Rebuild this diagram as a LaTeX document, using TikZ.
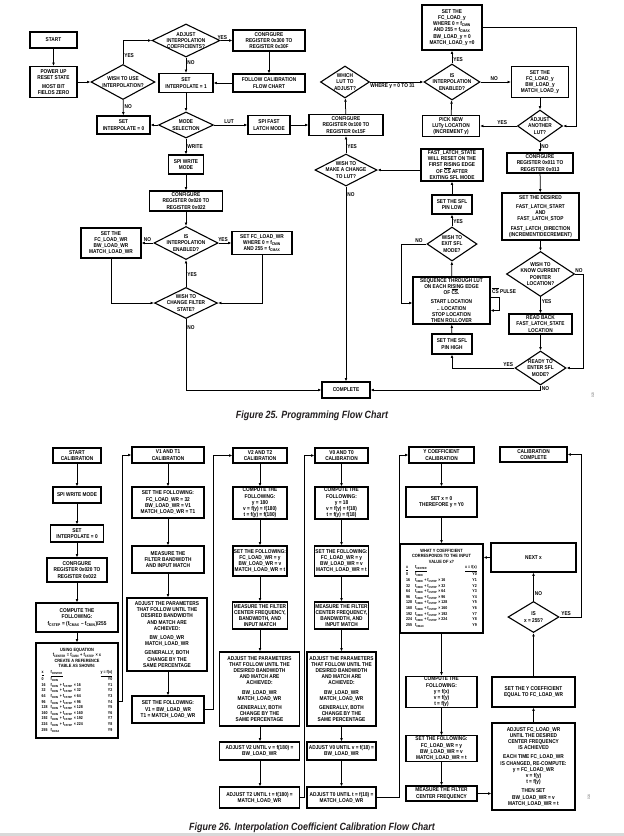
\documentclass[tikz,border=0pt]{standalone}
\usepackage{fontspec}
\usepackage{tikz}
\usetikzlibrary{shapes.geometric,arrows.meta,positioning}
\newfontfamily\flowfont{Liberation Sans}[FakeStretch=0.85]
\newcommand{\fsb}[1]{f\textsubscript{#1}}
\newcommand{\csbar}{$\overline{\mbox{CS}}$}
\newcommand{\txtfont}{\flowfont\bfseries\fontsize{5.6}{6.2}\selectfont}
\newcommand{\hdfont}{\flowfont\bfseries\fontsize{4.6}{5.4}\selectfont}
\newcommand{\tblfont}{\flowfont\bfseries\fontsize{4.2}{5.6}\selectfont}
\definecolor{capink}{HTML}{231F20}
\tikzset{
  box/.style={draw, line width=1.1pt, align=center, inner sep=1pt, font=\txtfont},
  tbox/.style={box, font=\hdfont},
  dia/.style={diamond, draw, line width=1.1pt, inner sep=0pt},
  dtxt/.style={align=center, inner sep=0pt, font=\txtfont},
  lbl/.style={inner sep=1pt, font=\txtfont},
  arr/.style={-{Latex[length=3.4pt,width=2.8pt]}, line width=.75pt},
  figcap/.style={text=capink, font=\flowfont\bfseries\itshape\fontsize{10.5}{12}\selectfont},
  figid/.style={rotate=90, font=\flowfont\fontsize{3.5}{4}\selectfont, text=black!60},
}

\begin{document}
\begin{tikzpicture}[x=1pt,y=-1pt]
          \useasboundingbox (0,0) rectangle (624,836);
          \fill[white] (0,0) rectangle (624,836);
          \fill[black!15] (0,833) rectangle (624,836);

          \node[box, minimum width=47pt, minimum height=16pt] (start) at (53.5,40) {START};
          \node[box, minimum width=47pt, minimum height=31pt] (powerup) at (53.5,82) {POWER UP\\RESET STATE\\[3pt]MOST BIT\\FIELDS ZERO};
          \node[dia, minimum width=64pt, minimum height=35pt] (wishuse) at (123,82) {};
          \node[dtxt] (wishuse-t) at (wishuse) {WISH TO USE\\INTERPOLATION?};
          \node[dia, minimum width=68pt, minimum height=33pt] (adjcoef) at (186,40.5) {};
          \node[dtxt] (adjcoef-t) at (adjcoef) {ADJUST\\INTERPOLATION\\COEFFICIENTS?};
          \node[box, minimum width=72pt, minimum height=21pt] (cfg300) at (269,40.5) {CONFIGURE\\REGISTER 0x300 TO\\REGISTER 0x30F};
          \node[box, minimum width=54pt, minimum height=19pt] (setone) at (186,83) {SET\\INTERPOLATE = 1};
          \node[box, minimum width=72pt, minimum height=18pt] (follow) at (269,83) {FOLLOW CALIBRATION\\FLOW CHART};
          \node[dia, minimum width=55pt, minimum height=26pt] (mode) at (186,125) {};
          \node[dtxt] (mode-t) at (mode) {MODE\\SELECTION};
          \node[box, minimum width=53pt, minimum height=18pt] (setzero) at (123.5,125) {SET\\INTERPOLATE = 0};
          \node[box, minimum width=42pt, minimum height=19pt] (spifast) at (269,125) {SPI FAST\\LATCH MODE};
          \node[box, minimum width=74pt, minimum height=21pt] (cfg100) at (346,125) {CONFIGURE\\REGISTER 0x100 TO\\REGISTER 0x15F};
          \node[dia, minimum width=49pt, minimum height=32pt] (whichlut) at (345,82) {};
          \node[dtxt] (whichlut-t) at (whichlut) {WHICH\\LUT TO\\ADJUST?};
          \node[dia, minimum width=56pt, minimum height=36pt] (isinterp) at (452,82) {};
          \node[dtxt] (isinterp-t) at (isinterp) {IS\\INTERPOLATION\\ENABLED?};
          \node[box, minimum width=60pt, minimum height=45pt] (setfcy) at (452,27.5) {SET THE\\FC\_LOAD\_y\\WHERE 0 = \fsb{CMIN}\\AND 255 = \fsb{CMAX}\\BW\_LOAD\_y = 0\\MATCH\_LOAD\_y =0};
          \node[box, minimum width=57pt, minimum height=31pt] (setfcy2) at (540,82) {SET THE\\FC\_LOAD\_y\\BW\_LOAD\_y\\MATCH\_LOAD\_y};
          \node[dia, minimum width=45pt, minimum height=32pt] (adjanother) at (540,126) {};
          \node[dtxt] (adjanother-t) at (adjanother) {ADJUST\\ANOTHER\\LUT?};
          \node[box, minimum width=57pt, minimum height=21pt] (picknew) at (451,126) {PICK NEW\\LUTy LOCATION\\(INCREMENT y)};
          \node[box, minimum width=66pt, minimum height=20pt] (cfg011) at (540,163) {CONFIGURE\\REGISTER 0x011 TO\\REGISTER 0x013};
          \node[box, minimum width=62pt, minimum height=32pt] (fastreset) at (452,165) {FAST\_LATCH\_STATE\\WILL RESET ON THE\\FIRST RISING EDGE\\OF \csbar{} AFTER\\EXITING SFL MODE};
          \node[dia, minimum width=62pt, minimum height=32pt] (wishchange) at (346,170) {};
          \node[dtxt] (wishchange-t) at (wishchange) {WISH TO\\MAKE A CHANGE\\TO LUT?};
          \node[box, minimum width=77pt, minimum height=47pt] (setdesired) at (540.5,216.5) {SET THE DESIRED\\[3pt]FAST\_LATCH\_START\\AND\\FAST\_LATCH\_STOP\\[3pt]FAST\_LATCH\_DIRECTION\\(INCREMENT/DECREMENT)};
          \node[box, minimum width=40pt, minimum height=19pt] (sfllow) at (452,204.5) {SET THE SFL\\PIN LOW};
          \node[dia, minimum width=50pt, minimum height=34pt] (wishexit) at (452,244) {};
          \node[dtxt] (wishexit-t) at (wishexit) {WISH TO\\EXIT SFL\\MODE?};
          \node[dia, minimum width=68pt, minimum height=45pt] (wishknow) at (540.5,274) {};
          \node[dtxt] (wishknow-t) at (wishknow) {WISH TO\\KNOW CURRENT\\POINTER\\LOCATION?};
          \node[box, minimum width=77pt, minimum height=47pt] (sequence) at (451.5,300.5) {SEQUENCE THROUGH LUT\\ON EACH RISING EDGE\\OF \csbar.\\[3pt]START LOCATION\\.. LOCATION\\STOP LOCATION\\THEN ROLLOVER};
          \node[lbl, anchor=west] (pulse) at (491,291) {\csbar{} PULSE};
          \node[box, minimum width=63pt, minimum height=20pt] (readback) at (540.5,324) {READ BACK\\FAST\_LATCH\_STATE\\LOCATION};
          \node[box, minimum width=40pt, minimum height=20pt] (sflhigh) at (452,344) {SET THE SFL\\PIN HIGH};
          \node[dia, minimum width=51pt, minimum height=34pt] (ready) at (540.5,368) {};
          \node[dtxt] (ready-t) at (ready) {READY TO\\ENTER SFL\\MODE?};
          \node[box, minimum width=48pt, minimum height=16pt] (complete) at (346,390) {COMPLETE};
          \node[box, minimum width=35pt, minimum height=19pt] (spiwrite) at (186,164.5) {SPI WRITE\\MODE};
          \node[box, minimum width=73pt, minimum height=20pt] (cfg020) at (186,201) {CONFIGURE\\REGISTER 0x020 TO\\REGISTER 0x022};
          \node[dia, minimum width=64pt, minimum height=33pt] (isinterp2) at (186,243) {};
          \node[dtxt] (isinterp2-t) at (isinterp2) {IS\\INTERPOLATION\\ENABLED?};
          \node[box, minimum width=60pt, minimum height=30pt] (setwr) at (111,243) {SET THE\\FC\_LOAD\_WR\\BW\_LOAD\_WR\\MATCH\_LOAD\_WR};
          \node[box, minimum width=60pt, minimum height=23pt] (setwrwhere) at (262,243) {SET FC\_LOAD\_WR\\WHERE 0 = \fsb{CMIN}\\AND 255 = \fsb{CMAX}};
          \node[dia, minimum width=63pt, minimum height=31pt] (wishfilter) at (186,303) {};
          \node[dtxt] (wishfilter-t) at (wishfilter) {WISH TO\\CHANGE FILTER\\STATE?};

          \draw[arr] (start) -- (powerup);
          \draw[arr] (powerup) -- (wishuse);
          \draw[arr] (wishuse.north) |- node[lbl, right, pos=.18] (yes1) {YES} (adjcoef.west);
          \draw[arr] (adjcoef.east) -- node[lbl, above, pos=.15] (yes2) {YES} (cfg300.west);
          \draw[arr] (adjcoef) -- node[lbl, right, pos=.3] (no1) {NO} (setone);
          \draw[arr] (cfg300) -- (follow);
          \draw[arr] (follow) -- (setone);
          \draw[arr] (setone) -- (mode);
          \draw[arr] (wishuse) -- node[lbl, right, pos=.4] (no2) {NO} (setzero);
          \draw[arr] (mode) -- (setzero);
          \draw[arr] (mode) -- node[lbl, above, pos=.45] (lut) {LUT} (spifast);
          \draw[arr] (mode) -- node[lbl, right, pos=.5] (write) {WRITE} (spiwrite);
          \draw[arr] (spifast) -- (cfg100);
          \draw[arr] (cfg100) -- (whichlut);
          \draw[arr] (whichlut) -- node[lbl, below, pos=.42] (where) {WHERE y = 0 TO 31} (isinterp);
          \draw[arr] (isinterp) -- node[lbl, right, pos=.3] (yes3) {YES} (setfcy);
          \draw[arr] (isinterp) -- node[lbl, above, pos=.45] (no3) {NO} (setfcy2);
          \draw[arr] (setfcy.east) -- ++(94,0) |- (adjanother.east);
          \draw[arr] (setfcy2) -- (adjanother);
          \draw[arr] (adjanother) -- node[lbl, above, pos=.4] (yes4) {YES} (picknew);
          \draw[arr] (picknew) -- (isinterp);
          \draw[arr] (adjanother) -- node[lbl, right, pos=.4] (no4) {NO} (cfg011);
          \draw[arr] (cfg011) -- (setdesired);
          \draw[arr] (setdesired) -- (wishknow);
          \draw[arr] (wishknow) -- node[lbl, right, pos=.25] (yes5) {YES} (readback);
          \draw[arr] (wishknow.east) -- node[lbl, above, pos=.5] (no5) {NO} ++(8,0) |- (ready.east);
          \draw[arr] (readback) -- (ready);
          \draw[arr] (ready.west) -| node[lbl, above, pos=.05] (yes6) {YES} (sflhigh.south);
          \draw[arr] (ready.south) |- node[lbl, right, pos=.3] (no6) {NO} (complete.east);
          \draw[arr] (sflhigh) -- (sequence);
          \draw[arr] (sequence) -- (wishexit);
          \draw[arr] (wishexit) -- node[lbl, right, pos=.4] (yes7) {YES} (sfllow);
          \draw[arr] (wishexit.west) -- node[lbl, above, pos=.3] (no7) {NO} ++(-25,0) |- ([yshift=-2.5pt]sequence.west);
          \draw[arr] ([yshift=3pt]sequence.east) -- ++(9,0) -- ++(0,13) -- ++(-9,0);
          \draw[arr] (sfllow) -- (fastreset);
          \draw[arr] (fastreset.west |- wishchange) -- (wishchange);
          \draw[arr] (wishchange) -- node[lbl, right, pos=.4] (yes8) {YES} (cfg100);
          \draw[arr] (wishchange) -- node[lbl, right, pos=.04] (no8) {NO} (complete);
          \draw[arr] (spiwrite) -- (cfg020);
          \draw[arr] (cfg020) -- (isinterp2);
          \draw[arr] (isinterp2) -- node[lbl, above, pos=.5] (no9) {NO} (setwr);
          \draw[arr] (isinterp2) -- node[lbl, above, pos=.35] (yes9) {YES} (setwrwhere);
          \draw[arr] (setwr.south) |- (wishfilter.west);
          \draw[arr] (setwrwhere.south) |- (wishfilter.east);
          \draw[arr] (wishfilter) -- node[lbl, right, pos=.45] (yes10) {YES} (isinterp2);
          \draw[arr] (wishfilter.south) |- node[lbl, right, pos=.06] (no10) {NO} (complete.west);

          \node[figcap] (cap25) at (312,416) {Figure 25. Programming Flow Chart};
          \node[figid] (id23) at (593,395) {023};

          \node[box, minimum width=48pt, minimum height=15pt] (startcal) at (77,455.5) {START\\CALIBRATION};
          \node[box, minimum width=48pt, minimum height=16pt] (spiwr2) at (77,495) {SPI WRITE MODE};
          \node[box, minimum width=53pt, minimum height=17pt] (setzero2) at (77,533.5) {SET\\INTERPOLATE = 0};
          \node[box, minimum width=60pt, minimum height=24pt] (cfg020b) at (77,570) {CONFIGURE\\REGISTER 0x020 TO\\REGISTER 0x022};
          \node[box, minimum width=82pt, minimum height=29pt] (cstep) at (77,617.5) {COMPUTE THE\\FOLLOWING:\\\fsb{CSTEP} = (\fsb{CMAX} – \fsb{CMIN})/255};
          \node[tbox, minimum width=82pt, minimum height=95pt] (using) at (77,690.5) {USING EQUATION\\\fsb{CENTER} = \fsb{CMIN} + \fsb{CSTEP} × x\\CREATE A REFERENCE\\TABLE AS SHOWN:\\[1pt]\tblfont\begin{tabular}{@{}p{9pt}@{}p{50pt}@{}r@{}}
            \underline{x} & \underline{\fsb{CENTER}} & \underline{y = f(x)}\\
            0 & \fsb{CMIN} & Y0\\
            16 & \fsb{CMIN} + \fsb{CSTEP} × 16 & Y1\\
            32 & \fsb{CMIN} + \fsb{CSTEP} × 32 & Y2\\
            64 & \fsb{CMIN} + \fsb{CSTEP} × 64 & Y3\\
            96 & \fsb{CMIN} + \fsb{CSTEP} × 96 & Y4\\
            128 & \fsb{CMIN} + \fsb{CSTEP} × 128 & Y5\\
            160 & \fsb{CMIN} + \fsb{CSTEP} × 160 & Y6\\
            192 & \fsb{CMIN} + \fsb{CSTEP} × 192 & Y7\\
            224 & \fsb{CMIN} + \fsb{CSTEP} × 224 & Y8\\
            255 & \fsb{CMAX} & Y9
          \end{tabular}};

          \node[box, minimum width=72pt, minimum height=16pt] (v1cal) at (168,455) {V1 AND T1\\CALIBRATION};
          \node[box, minimum width=72pt, minimum height=31pt] (v1set) at (168,502.5) {SET THE FOLLOWING:\\FC\_LOAD\_WR = 32\\BW\_LOAD\_WR = V1\\MATCH\_LOAD\_WR = T1};
          \node[box, minimum width=72pt, minimum height=27pt] (v1meas) at (168,559.5) {MEASURE THE\\FILTER BANDWIDTH\\AND INPUT MATCH};
          \node[box, minimum width=80pt, minimum height=73pt] (v1adj) at (167,634.5) {ADJUST THE PARAMETERS\\THAT FOLLOW UNTIL THE\\DESIRED BANDWIDTH\\AND MATCH ARE\\ACHIEVED:\\[3pt]BW\_LOAD\_WR\\MATCH\_LOAD\_WR\\[3pt]GENERALLY, BOTH\\CHANGE BY THE\\SAME PERCENTAGE};
          \node[box, minimum width=72pt, minimum height=27pt] (v1fin) at (168,709.5) {SET THE FOLLOWING:\\V1 = BW\_LOAD\_WR\\T1 = MATCH\_LOAD\_WR};

          \node[box, minimum width=54pt, minimum height=15pt] (v2cal) at (260,455.5) {V2 AND T2\\CALIBRATION};
          \node[box, minimum width=54pt, minimum height=32pt] (v2comp) at (260,503) {COMPUTE THE\\FOLLOWING:\\y = 180\\v = f(y) = f(180)\\t = f(y) = f(180)};
          \node[box, minimum width=54pt, minimum height=30pt] (v2set) at (260,561) {SET THE FOLLOWING:\\FC\_LOAD\_WR = y\\BW\_LOAD\_WR = v\\MATCH\_LOAD\_WR = t};
          \node[box, minimum width=54pt, minimum height=27pt] (v2meas) at (260,615.5) {MEASURE THE FILTER\\CENTER FREQUENCY,\\BANDWIDTH, AND\\INPUT MATCH};
          \node[box, minimum width=80pt, minimum height=74pt] (v2adj) at (259.5,689) {ADJUST THE PARAMETERS\\THAT FOLLOW UNTIL THE\\DESIRED BANDWIDTH\\AND MATCH ARE\\ACHIEVED:\\[3pt]BW\_LOAD\_WR\\MATCH\_LOAD\_WR\\[3pt]GENERALLY, BOTH\\CHANGE BY THE\\SAME PERCENTAGE};
          \node[box, minimum width=80pt, minimum height=18pt] (v2v) at (259.5,751) {ADJUST V2 UNTIL v = f(180) =\\BW\_LOAD\_WR};
          \node[box, minimum width=80pt, minimum height=21pt] (v2t) at (259.5,797.5) {ADJUST T2 UNTIL t = f(180) =\\MATCH\_LOAD\_WR};

          \node[box, minimum width=53pt, minimum height=15pt] (v0cal) at (341.5,455.5) {V0 AND T0\\CALIBRATION};
          \node[box, minimum width=53pt, minimum height=32pt] (v0comp) at (341.5,503) {COMPUTE THE\\FOLLOWING:\\y = 18\\v = f(y) = f(18)\\t = f(y) = f(18)};
          \node[box, minimum width=53pt, minimum height=30pt] (v0set) at (341.5,561) {SET THE FOLLOWING:\\FC\_LOAD\_WR = y\\BW\_LOAD\_WR = v\\MATCH\_LOAD\_WR = t};
          \node[box, minimum width=53pt, minimum height=27pt] (v0meas) at (341.5,615.5) {MEASURE THE FILTER\\CENTER FREQUENCY,\\BANDWIDTH, AND\\INPUT MATCH};
          \node[box, minimum width=69pt, minimum height=74pt] (v0adj) at (341.5,689) {ADJUST THE PARAMETERS\\THAT FOLLOW UNTIL THE\\DESIRED BANDWIDTH\\AND MATCH ARE\\ACHIEVED:\\[3pt]BW\_LOAD\_WR\\MATCH\_LOAD\_WR\\[3pt]GENERALLY, BOTH\\CHANGE BY THE\\SAME PERCENTAGE};
          \node[box, minimum width=69pt, minimum height=18pt] (v0v) at (341.5,751) {ADJUST V0 UNTIL v = f(18) =\\BW\_LOAD\_WR};
          \node[box, minimum width=69pt, minimum height=21pt] (v0t) at (341.5,797.5) {ADJUST T0 UNTIL t = f(18) =\\MATCH\_LOAD\_WR};

          \node[box, minimum width=65pt, minimum height=16pt] (ycal) at (441.5,455) {Y COEFFICIENT\\CALIBRATION};
          \node[box, minimum width=71pt, minimum height=30pt] (setx) at (441.5,502) {SET x = 0\\THEREFORE y = Y0};
          \node[tbox, minimum width=83pt, minimum height=89pt] (ytable) at (441.5,588.5) {WHAT Y COEFFICIENT\\CORRESPONDS TO THE INPUT\\VALUE OF x?\\[1pt]\tblfont\begin{tabular}{@{}p{9pt}@{}p{50pt}@{}r@{}}
            \underline{x} & \underline{\fsb{CENTER}} & \underline{x = f(x)}\\
            0 & \fsb{CMIN} & Y0\\
            16 & \fsb{CMIN} + \fsb{CSTEP} × 16 & Y1\\
            32 & \fsb{CMIN} + \fsb{CSTEP} × 32 & Y2\\
            64 & \fsb{CMIN} + \fsb{CSTEP} × 64 & Y3\\
            96 & \fsb{CMIN} + \fsb{CSTEP} × 96 & Y4\\
            128 & \fsb{CMIN} + \fsb{CSTEP} × 128 & Y5\\
            160 & \fsb{CMIN} + \fsb{CSTEP} × 160 & Y6\\
            192 & \fsb{CMIN} + \fsb{CSTEP} × 192 & Y7\\
            224 & \fsb{CMIN} + \fsb{CSTEP} × 224 & Y8\\
            255 & \fsb{CMAX} & Y9
          \end{tabular}};
          \node[box, minimum width=71pt, minimum height=30pt] (ycomp) at (441.5,692) {COMPUTE THE\\FOLLOWING:\\y = f(x)\\v = f(y)\\t = f(y)};
          \node[box, minimum width=71pt, minimum height=23pt] (yset) at (441.5,748.5) {SET THE FOLLOWING:\\FC\_LOAD\_WR = y\\BW\_LOAD\_WR = v\\MATCH\_LOAD\_WR = t};
          \node[box, minimum width=71pt, minimum height=15pt] (ymeas) at (441.5,793.5) {MEASURE THE FILTER\\CENTER FREQUENCY};

          \node[box, minimum width=67pt, minimum height=15pt] (calcomp) at (533.5,454.5) {CALIBRATION\\COMPLETE};
          \node[box, minimum width=85pt, minimum height=29pt] (nextx) at (533.5,557.5) {NEXT x};
          \node[dia, minimum width=51pt, minimum height=31pt] (is255) at (533.5,617) {};
          \node[dtxt] (is255-t) at (is255) {IS\\x = 255?};
          \node[box, minimum width=83pt, minimum height=30pt] (setycoef) at (533.5,692) {SET THE Y COEFFICIENT\\EQUAL TO FC\_LOAD\_WR};
          \node[box, minimum width=83pt, minimum height=87pt] (adjfc) at (533.5,766.5) {ADJUST FC\_LOAD\_WR\\UNTIL THE DESIRED\\CENTER FREQUENCY\\IS ACHIEVED\\[3pt]EACH TIME FC\_LOAD\_WR\\IS CHANGED, RE-COMPUTE:\\y = FC\_LOAD\_WR\\v = f(y)\\t = f(y)\\[3pt]THEN SET\\BW\_LOAD\_WR = v\\MATCH\_LOAD\_WR = t};

          \draw[arr] (startcal) -- (spiwr2);
          \draw[arr] (spiwr2) -- (setzero2);
          \draw[arr] (setzero2) -- (cfg020b);
          \draw[arr] (cfg020b) -- (cstep);
          \draw[arr] (cstep) -- (using);
          \draw[arr] ([yshift=-11pt]using.east) -- ++(4,0) |- (v1cal.west);
          \draw[arr] (v1cal) -- (v1set);
          \draw[arr] (v1set) -- (v1meas);
          \draw[arr] (v1meas) -- (v1adj.north -| v1meas);
          \draw[arr] (v1adj.south -| v1fin) -- (v1fin);
          \draw[arr] (v1fin.east) -- ++(9,0) |- (v2cal.west);
          \draw[arr] (v2cal) -- (v2comp);
          \draw[arr] (v2comp) -- (v2set);
          \draw[arr] (v2set) -- (v2meas);
          \draw[arr] (v2meas) -- (v2adj.north -| v2meas);
          \draw[arr] (v2adj.south -| v2meas) -- (v2v.north -| v2meas);
          \draw[arr] (v2v.south -| v2meas) -- (v2t.north -| v2meas);
          \draw[arr] (v2t.east) -- ++(4,0) |- (v0cal.west);
          \draw[arr] (v0cal) -- (v0comp);
          \draw[arr] (v0comp) -- (v0set);
          \draw[arr] (v0set) -- (v0meas);
          \draw[arr] (v0meas) -- (v0adj);
          \draw[arr] (v0adj) -- (v0v);
          \draw[arr] (v0v) -- (v0t);
          \draw[arr] (v0t.east) -- ++(23,0) |- (ycal.west);
          \draw[arr] (ycal) -- (setx);
          \draw[arr] (setx) -- (ytable);
          \draw[arr] (ytable) -- (ycomp);
          \draw[arr] (ycomp) -- (yset);
          \draw[arr] (yset) -- (ymeas);
          \draw[arr] (ymeas.east) -- (ymeas.east -| adjfc.west);
          \draw[arr] (adjfc) -- (setycoef);
          \draw[arr] (setycoef) -- (is255);
          \draw[arr] (is255) -- node[lbl, right, pos=.25] (no11) {NO} (nextx);
          \draw[arr] (nextx.west) -- (nextx.west -| ytable.east);
          \draw[arr] (is255.east) -- node[lbl, above, pos=.3] (yes11) {YES} ++(22,0) |- (calcomp.east);

          \node[figcap] (cap26) at (312,828) {Figure 26. Interpolation Coefficient Calibration Flow Chart};
          \node[figid] (id24) at (589,797) {024};
        \end{tikzpicture}
\end{document}
